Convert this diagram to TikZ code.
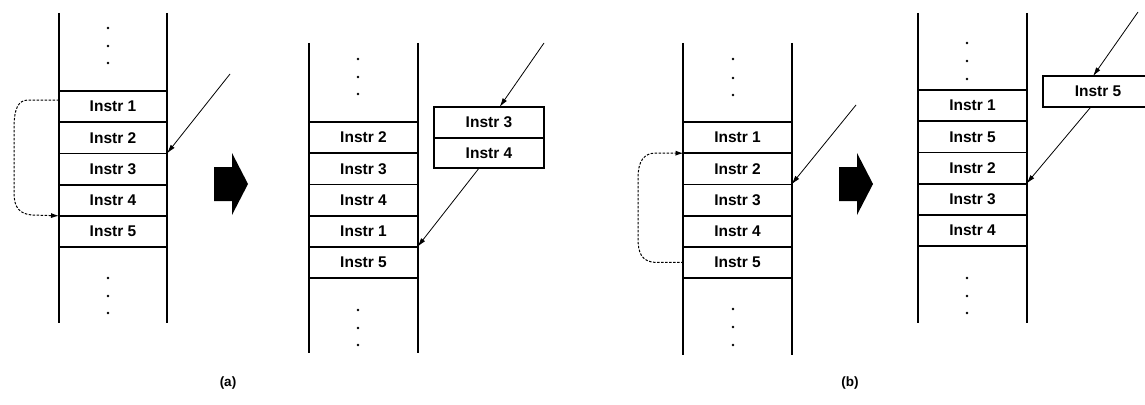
\documentclass[tikz,border=0pt]{standalone}
\usepackage{fontspec}
\setmainfont{Liberation Sans}
\usetikzlibrary{arrows.meta,calc}
\begin{document}
\begin{tikzpicture}[x=1pt,y=-1pt,
  cell/.style={draw, line width=1.8pt, minimum width=108pt, minimum height=31.2pt, inner sep=0pt, outer sep=0pt, font=\fontsize{15.5}{17}\selectfont\bfseries},
  sidecell/.style={cell, minimum width=110pt, minimum height=30.6pt},
  col/.style={line width=2pt},
  vdot/.style={fill=black},
  ptr/.style={line width=0.8pt, -{Latex[length=9pt,width=5pt]}},
  loopar/.style={line width=1pt, dash pattern=on 2.5pt off 1.5pt, -{Latex[length=8pt,width=5pt]}},
  bigarrow/.style={fill=black},
  lbl/.style={font=\fontsize{13.5}{15}\selectfont\bfseries}]
\useasboundingbox (0,0) rectangle (1145,404);

% ---------- panel (a) left ----------
\node[cell] (a1) at (113,106.6) {Instr 1};
\node[cell] (a2) at (113,137.8) {Instr 2};
\node[cell] (a3) at (113,169.0) {Instr 3};
\node[cell] (a4) at (113,200.2) {Instr 4};
\node[cell] (a5) at (113,231.4) {Instr 5};
\draw[col] (59,13) -- (59,323);
\draw[col] (167,13) -- (167,323);
\foreach \y in {28,46,63,278,296,313} \fill[vdot] (108,\y) circle (1.4);
\draw[loopar] ($(a1.west)+(0,-6.6)$) -- (28,100) .. controls (15,100) and (14,115) .. (14,132)
  -- (14,193) .. controls (14,208) and (20,214) .. (32,215) -- (a4.south west);
\coordinate (pa) at (230,74);
\draw[ptr] (pa) -- (a3.north east);

% ---------- big arrow (a) ----------
\fill[bigarrow] (214,167) -- (232,167) -- (232,153) -- (248,184) -- (232,215) -- (232,201) -- (214,201) -- cycle;

% ---------- panel (a) right ----------
\node[cell] (b1) at (363.5,137.6) {Instr 2};
\node[cell] (b2) at (363.5,168.8) {Instr 3};
\node[cell] (b3) at (363.5,200.0) {Instr 4};
\node[cell] (b4) at (363.5,231.2) {Instr 1};
\node[cell] (b5) at (363.5,262.4) {Instr 5};
\draw[col] (309,43) -- (309,353);
\draw[col] (418,43) -- (418,353);
\foreach \y in {59,77,94,310,328,345} \fill[vdot] (358,\y) circle (1.4);
\node[sidecell] (s3) at (489,122.3) {Instr 3};
\node[sidecell] (s4) at (489,152.9) {Instr 4};
\coordinate (pb) at (544,43);
\draw[ptr] (pb) -- (s3);
\draw[ptr] ($(s4.south)+(-10,0)$) -- (b5.north east);

\node[lbl] (la) at (228,383) {(a)};

% ---------- panel (b) left ----------
\node[cell] (c1) at (737.5,137.6) {Instr 1};
\node[cell] (c2) at (737.5,168.8) {Instr 2};
\node[cell] (c3) at (737.5,200.0) {Instr 3};
\node[cell] (c4) at (737.5,231.2) {Instr 4};
\node[cell] (c5) at (737.5,262.4) {Instr 5};
\draw[col] (683,43) -- (683,355);
\draw[col] (792,43) -- (792,355);
\foreach \y in {59,78,95,309,327,345} \fill[vdot] (733,\y) circle (1.4);
\draw[loopar] (c5.west) -- (656,262.4) .. controls (641,262) and (638,252) .. (638,238)
  -- (638,178) .. controls (638,161) and (644,153) .. (656,153) -- (c1.south west);
\coordinate (pc) at (856,105);
\draw[ptr] (pc) -- (c3.north east);

% ---------- big arrow (b) ----------
\fill[bigarrow] (839,167) -- (857,167) -- (857,153) -- (873,184) -- (857,215) -- (857,201) -- (839,201) -- cycle;

% ---------- panel (b) right ----------
\node[cell] (d1) at (972.5,105.6) {Instr 1};
\node[cell] (d2) at (972.5,136.8) {Instr 5};
\node[cell] (d3) at (972.5,168.0) {Instr 2};
\node[cell] (d4) at (972.5,199.2) {Instr 3};
\node[cell] (d5) at (972.5,230.4) {Instr 4};
\draw[col] (918,13) -- (918,323);
\draw[col] (1027,13) -- (1027,323);
\foreach \y in {43,61,79,278,296,313} \fill[vdot] (967,\y) circle (1.4);
\node[sidecell, minimum width=116pt] (t5) at (1101,91.5) {\hspace*{-6pt}Instr 5};
\coordinate (pd) at (1138,12);
\draw[ptr] (pd) -- ($(t5.north)+(-8,0)$);
\draw[ptr] ($(t5.south)+(-10,0)$) -- (d4.north east);

\node[lbl] (lb) at (850,383) {(b)};
\end{tikzpicture}
\end{document}
